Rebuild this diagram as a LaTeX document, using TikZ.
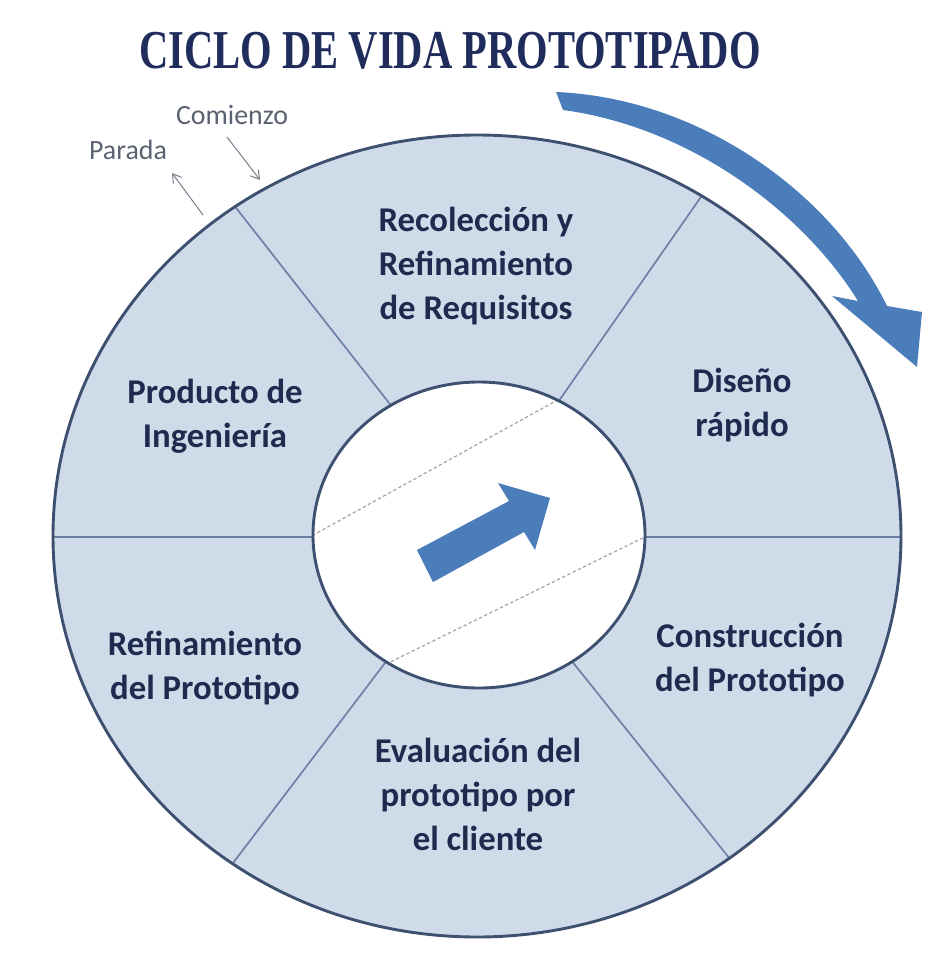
\documentclass[tikz,border=0pt]{standalone}
\usepackage{fontspec}
\setmainfont{Carlito}
\newfontfamily\titlefont{Liberation Serif}
\usetikzlibrary{arrows.meta}
\definecolor{RingFill}{HTML}{D0DBEA}
\definecolor{RingLine}{HTML}{3E5070}
\definecolor{SpokeLine}{HTML}{6A80A2}
\definecolor{ArrowBlue}{HTML}{4A7DBA}
\definecolor{LabelNavy}{HTML}{1C2B4E}
\definecolor{TitleNavy}{HTML}{1F2C5C}
\definecolor{NoteGray}{HTML}{5A6170}

\tikzset{
  phase/.style={align=center, text=LabelNavy, font=\fontsize{16.8}{21.3}\selectfont\bfseries},
  note/.style={text=NoteGray, font=\fontsize{13.5}{16}\selectfont},
  notearrow/.style={NoteGray!80, line width=0.5pt, -{Straight Barb[length=4pt,width=5pt]}},
}

\begin{document}
\begin{tikzpicture}[x=0.017cm, y=-0.017cm]
    \useasboundingbox (0,0) rectangle (946,957);
    % title
    \node[font=\titlefont\bfseries\fontsize{26.5}{30}\selectfont, text=TitleNavy] (title) at (450,51)
        {\scalebox{0.74}[1]{CICLO DE VIDA PROTOTIPADO}};

    % outer ring and spokes
    \coordinate (c) at (477,536);
    \fill[RingFill] (c) ellipse [x radius=424, y radius=401];
    \begin{scope}
        \clip (c) ellipse [x radius=424, y radius=401];
        \draw[SpokeLine, line width=0.8pt] (233,204) -- (393,408);
        \draw[SpokeLine, line width=0.8pt] (703,194) -- (556,405);
        \draw[SpokeLine, line width=0.8pt] (230,867) -- (388,659);
        \draw[SpokeLine, line width=0.8pt] (734,864) -- (571,660);
        \draw[SpokeLine, line width=0.8pt] (40,537) -- (330,537);
        \draw[SpokeLine, line width=0.8pt] (630,537) -- (915,537);
    \end{scope}
    \draw[RingLine, line width=1.4pt] (c) ellipse [x radius=424, y radius=401];

    % inner disc
    \coordinate (m) at (479,535);
    \fill[white] (m) ellipse [x radius=166, y radius=153];
    \begin{scope}
        \clip (m) ellipse [x radius=166, y radius=153];
        \draw[gray!70, dash pattern=on 1.6pt off 1.2pt, line width=0.6pt] (297,544) -- (572,392);
        \draw[gray!70, dash pattern=on 1.6pt off 1.2pt, line width=0.6pt] (370,672) -- (663,528);
    \end{scope}
    \draw[RingLine, line width=1.4pt] (m) ellipse [x radius=166, y radius=153];
    \fill[ArrowBlue] (417,550) -- (509,501) -- (498,483) -- (550,498) -- (535,550)
        -- (524,532) -- (433,582) -- cycle;

    % turning arrow
    \fill[ArrowBlue] (556,92) .. controls (700,98) and (832,193) .. (887,306)
        -- (922,312) -- (917,367) -- (832,296) -- (858,301)
        .. controls (803,212) and (690,127) .. (563,110) -- cycle;

    % start and stop
    \node[note] (parada) at (128,150) {Parada};
    \node[note] (comienzo) at (232,115) {Comienzo};
    \coordinate (paradafrom) at (203,215);
    \coordinate (comienzoto) at (260,180);
    \draw[notearrow] (paradafrom) -- (172,173);
    \draw[notearrow] (227,137) -- (comienzoto);

    % phases
    \node[phase] (req)   at (476,266) {Recolección y\\Refinamiento\\de Requisitos};
    \node[phase] (dis)   at (742,405) {Diseño\\rápido};
    \node[phase] (cons)  at (750,660) {Construcción\\del Prototipo};
    \node[phase] (eval)  at (478,794) {Evaluación del\\prototipo por\\el cliente};
    \node[phase] (refi)  at (205,668) {Refinamiento\\del Prototipo};
    \node[phase] (prod)  at (215,416) {Producto de\\Ingeniería};
\end{tikzpicture}
\end{document}
